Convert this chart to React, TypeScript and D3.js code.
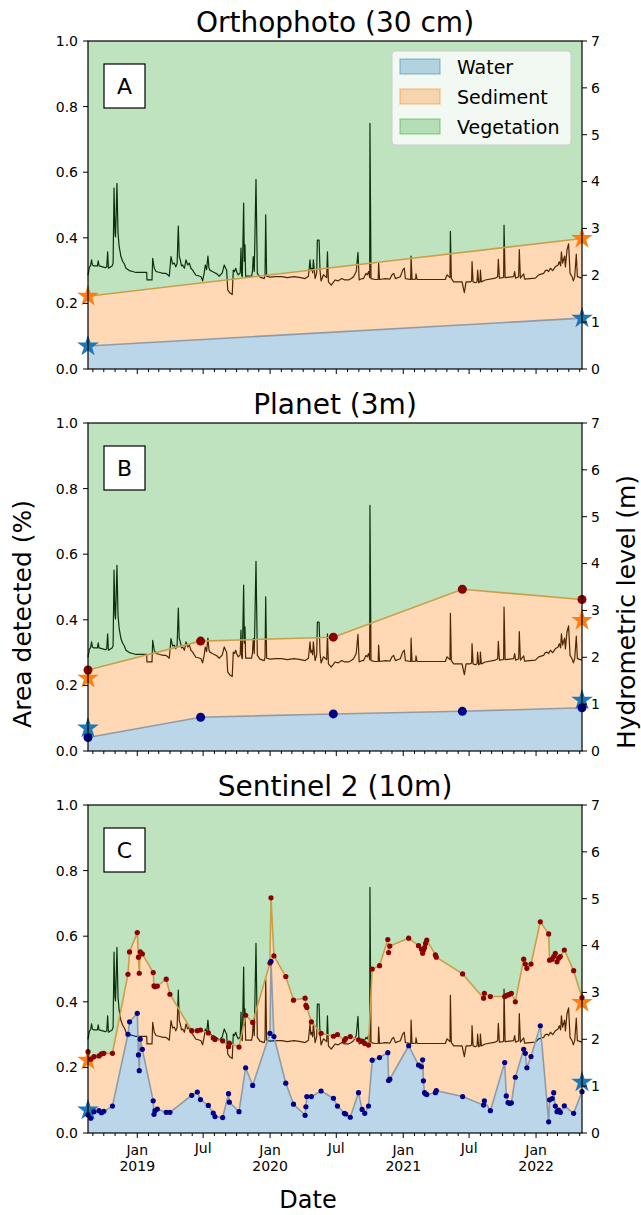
import React from "react";
import * as d3 from "d3";

// hydrometric level (m) at the station, time in decimal years
const hydroYears = [
  2018.629, 2018.64, 2018.648, 2018.656, 2018.662, 2018.674, 2018.7, 2018.706, 2018.712, 2018.74,
  2018.76, 2018.77, 2018.777, 2018.783, 2018.81, 2018.818, 2018.825, 2018.832, 2018.836, 2018.842,
  2018.847, 2018.855, 2018.864, 2018.877, 2018.89, 2018.903, 2018.915, 2018.94, 2018.965, 2018.99,
  2019.071, 2019.073, 2019.111, 2019.116, 2019.128, 2019.141, 2019.17, 2019.195, 2019.216, 2019.23,
  2019.241, 2019.254, 2019.266, 2019.279, 2019.29, 2019.3, 2019.309, 2019.316, 2019.324, 2019.333,
  2019.342, 2019.355, 2019.367, 2019.38, 2019.392, 2019.404, 2019.417, 2019.43, 2019.442, 2019.46,
  2019.48, 2019.492, 2019.504, 2019.512, 2019.522, 2019.532, 2019.54, 2019.547, 2019.565, 2019.58,
  2019.6, 2019.617, 2019.64, 2019.655, 2019.665, 2019.673, 2019.681, 2019.698, 2019.715, 2019.723,
  2019.732, 2019.741, 2019.752, 2019.761, 2019.775, 2019.781, 2019.786, 2019.791, 2019.801, 2019.806,
  2019.811, 2019.816, 2019.84, 2019.861, 2019.868, 2019.873, 2019.881, 2019.894, 2019.904, 2019.924,
  2019.956, 2019.962, 2019.967, 2019.974, 2020.0, 2020.04, 2020.087, 2020.13, 2020.18, 2020.23,
  2020.263, 2020.288, 2020.3, 2020.306, 2020.313, 2020.32, 2020.325, 2020.338, 2020.35, 2020.355,
  2020.368, 2020.375, 2020.383, 2020.401, 2020.425, 2020.431, 2020.438, 2020.459, 2020.475, 2020.489,
  2020.51, 2020.539, 2020.56, 2020.589, 2020.61, 2020.627, 2020.647, 2020.66, 2020.669, 2020.69,
  2020.702, 2020.72, 2020.73, 2020.74, 2020.748, 2020.75, 2020.758, 2020.79, 2020.812, 2020.815,
  2020.822, 2020.865, 2020.9, 2020.916, 2020.928, 2020.941, 2020.978, 2020.996, 2021.008, 2021.016,
  2021.056, 2021.059, 2021.066, 2021.094, 2021.096, 2021.104, 2021.2, 2021.317, 2021.33, 2021.352,
  2021.355, 2021.362, 2021.38, 2021.443, 2021.46, 2021.473, 2021.505, 2021.515, 2021.518, 2021.526,
  2021.543, 2021.556, 2021.56, 2021.568, 2021.578, 2021.581, 2021.588, 2021.618, 2021.694, 2021.711,
  2021.716, 2021.724, 2021.749, 2021.756, 2021.759, 2021.767, 2021.831, 2021.839, 2021.846, 2021.869,
  2021.874, 2021.882, 2021.907, 2021.914, 2021.995, 2022.02, 2022.057, 2022.07, 2022.083, 2022.095,
  2022.108, 2022.125, 2022.145, 2022.166, 2022.175, 2022.185, 2022.191, 2022.2, 2022.215, 2022.221,
  2022.233, 2022.245, 2022.256, 2022.271, 2022.281, 2022.291, 2022.303, 2022.311, 2022.334, 2022.346,
];
const hydroLevels = [
  2.0, 2.18, 2.2, 2.33, 2.22, 2.2, 2.2, 2.31, 2.2, 2.18,
  2.16, 2.18, 2.5, 2.15, 2.2, 2.25, 3.86, 2.9, 2.82, 3.4,
  3.96, 2.9, 2.61, 2.4, 2.3, 2.24, 2.15, 2.1, 2.08, 2.06,
  2.06, 1.9, 1.9, 2.36, 2.15, 2.08, 2.06, 2.04, 2.04, 2.01,
  1.98, 2.4, 2.24, 2.26, 2.18, 2.25, 3.05, 2.4, 2.33, 2.2,
  2.22, 2.15, 2.33, 2.22, 2.26, 2.15, 2.11, 2.05, 2.0, 1.99,
  1.97, 1.88, 2.05, 2.22, 2.12, 2.41, 2.15, 2.11, 2.08, 2.06,
  2.03, 1.98, 2.05, 2.22, 2.15, 2.11, 1.69, 1.62, 1.59, 2.11,
  2.08, 2.15, 2.05, 2.01, 2.05, 2.58, 2.0, 1.97, 3.54, 2.3,
  2.65, 1.98, 1.98, 1.98, 2.1, 2.4, 2.08, 4.05, 2.04, 1.96,
  1.93, 2.0, 3.29, 1.98, 1.96, 1.97, 1.97, 1.95, 1.97, 1.95,
  1.93, 1.98, 2.33, 2.1, 2.15, 2.05, 2.33, 1.93, 2.05, 2.75,
  2.75, 2.1, 1.88, 2.01, 1.95, 2.5, 1.86, 1.79, 1.85, 1.9,
  1.88, 1.93, 1.9, 1.9, 1.93, 1.97, 2.08, 2.49, 1.9, 1.93,
  1.93, 2.04, 2.01, 2.08, 1.95, 5.24, 1.93, 1.91, 1.91, 2.26,
  1.91, 1.93, 1.92, 2.01, 2.04, 1.93, 1.97, 2.11, 2.15, 1.93,
  1.91, 2.41, 1.91, 1.92, 2.03, 1.91, 1.91, 1.91, 2.01, 1.95,
  2.94, 1.93, 1.86, 1.86, 1.63, 1.86, 1.86, 1.88, 2.29, 1.86,
  1.84, 1.86, 2.11, 1.84, 1.86, 2.11, 1.86, 1.9, 1.94, 1.97,
  2.34, 1.94, 1.95, 1.96, 3.07, 1.95, 1.97, 2.08, 1.94, 1.97,
  2.55, 1.94, 2.03, 1.92, 1.94, 2.01, 2.04, 2.1, 2.11, 2.08,
  2.15, 2.1, 2.18, 2.22, 2.29, 2.2, 2.5, 2.26, 2.41, 2.18,
  2.54, 2.67, 2.04, 1.97, 1.88, 1.97, 2.45, 1.97, 1.95, 1.94,
];

// Orthophoto (30 cm): water fraction and water + sediment fraction
const orthoYears = [2018.629, 2022.346];
const orthoWater = [0.07, 0.155];
const orthoWaterSed = [0.222, 0.398];

// Planet (3m)
const planetYears = [2018.629, 2019.477, 2020.475, 2021.445, 2022.346];
const planetWater = [0.041, 0.103, 0.113, 0.121, 0.132];
const planetWaterSed = [0.247, 0.335, 0.347, 0.493, 0.462];

// Sentinel 2 (10m)
const s2Years = [
  2018.629, 2018.65, 2018.674, 2018.712, 2018.73, 2018.748, 2018.813, 2018.93, 2018.942, 2019.0,
  2019.009, 2019.015, 2019.022, 2019.038, 2019.12, 2019.126, 2019.133, 2019.151, 2019.218, 2019.246,
  2019.41, 2019.452, 2019.476, 2019.535, 2019.572, 2019.585, 2019.643, 2019.687, 2019.693, 2019.766,
  2019.816, 2019.869, 2019.999, 2020.007, 2020.029, 2020.118, 2020.176, 2020.263, 2020.269, 2020.276,
  2020.31, 2020.383, 2020.476, 2020.506, 2020.558, 2020.568, 2020.602, 2020.664, 2020.691, 2020.711,
  2020.739, 2020.767, 2020.822, 2020.884, 2020.89, 2020.899, 2021.041, 2021.115, 2021.137, 2021.146,
  2021.152, 2021.16, 2021.168, 2021.177, 2021.242, 2021.249, 2021.447, 2021.605, 2021.611, 2021.656,
  2021.764, 2021.776, 2021.789, 2021.801, 2021.814, 2021.844, 2021.907, 2021.919, 2021.931, 2021.962,
  2022.032, 2022.095, 2022.102, 2022.121, 2022.133, 2022.145, 2022.158, 2022.17, 2022.183, 2022.213,
  2022.283, 2022.346,
];
const s2Water = [
  0.055, 0.045, 0.065, 0.068, 0.062, 0.066, 0.082, 0.301, 0.339, 0.365,
  0.238, 0.19, 0.286, 0.255, 0.098, 0.057, 0.068, 0.073, 0.063, 0.063,
  0.115, 0.125, 0.102, 0.084, 0.061, 0.05, 0.047, 0.12, 0.094, 0.065,
  0.199, 0.145, 0.304, 0.523, 0.294, 0.152, 0.088, 0.054, 0.08, 0.111,
  0.111, 0.128, 0.106, 0.082, 0.06, 0.058, 0.048, 0.123, 0.072, 0.06,
  0.082, 0.222, 0.23, 0.245, 0.16, 0.164, 0.266, 0.207, 0.202, 0.223,
  0.159, 0.123, 0.12, 0.117, 0.123, 0.129, 0.111, 0.085, 0.098, 0.068,
  0.215, 0.113, 0.093, 0.09, 0.092, 0.17, 0.255, 0.243, 0.199, 0.233,
  0.327, 0.034, 0.101, 0.105, 0.123, 0.082, 0.065, 0.07, 0.063, 0.083,
  0.06, 0.126,
];
const s2WaterSed = [
  0.248, 0.225, 0.233, 0.235, 0.241, 0.243, 0.243, 0.484, 0.552, 0.611,
  0.536, 0.487, 0.552, 0.546, 0.489, 0.449, 0.446, 0.448, 0.469, 0.423,
  0.312, 0.312, 0.314, 0.305, 0.29, 0.285, 0.281, 0.263, 0.274, 0.262,
  0.359, 0.337, 0.518, 0.717, 0.54, 0.477, 0.405, 0.411, 0.389, 0.383,
  0.339, 0.304, 0.295, 0.3, 0.282, 0.288, 0.294, 0.284, 0.28, 0.273,
  0.268, 0.5, 0.51, 0.59, 0.55, 0.57, 0.594, 0.571, 0.56, 0.548,
  0.558, 0.565, 0.578, 0.588, 0.543, 0.536, 0.485, 0.411, 0.426, 0.416,
  0.416, 0.419, 0.421, 0.423, 0.426, 0.4, 0.53, 0.515, 0.502, 0.515,
  0.644, 0.607, 0.527, 0.53, 0.538, 0.548, 0.522, 0.533, 0.538, 0.558,
  0.495, 0.413,
];

const legendLabels = ["Water", "Sediment", "Vegetation"];
const areaTicks = [0, 0.2, 0.4, 0.6, 0.8, 1.0];
const levelTicks = [0, 1, 2, 3, 4, 5, 6, 7];

const WIDTH = 641;
const HEIGHT = 1215;
const LEFT = 88;
const RIGHT = 582;
const PANEL_H = 328;
const FONT = "DejaVu Sans, sans-serif";

const BLUE = "#1f77b4";
const ORANGE = "#ff7f0e";
const GREEN = "#2ca02c";

function yearToDate(y: number): Date {
  const yr = Math.floor(y);
  const a = Date.UTC(yr, 0, 1);
  const b = Date.UTC(yr + 1, 0, 1);
  return new Date(a + (y - yr) * (b - a));
}

const x = d3
  .scaleUtc()
  .domain([yearToDate(orthoYears[0]), yearToDate(orthoYears[1])])
  .range([LEFT, RIGHT]);
const months = d3.utcMonth.range(x.domain()[0], x.domain()[1]);

type PanelProps = {
  top: number;
  title: string;
  letter: string;
  years: number[];
  water: number[];
  waterSed: number[];
  dotR: number;
  legend?: boolean;
  dateLabels?: boolean;
};

function Panel({ top, title, letter, years, water, waterSed, dotR, legend, dateLabels }: PanelProps) {
  const bottom = top + PANEL_H;
  const yArea = d3.scaleLinear().domain([0, 1]).range([bottom, top]);
  const yLevel = d3.scaleLinear().domain([0, 7]).range([bottom, top]);

  const pts = years.map((t, i) => ({ d: yearToDate(t), w: water[i], s: waterSed[i] }));
  const px = (p: any) => x(p.d);

  const waterArea = d3.area<any>().x(px).y0(yArea(0)).y1((p) => yArea(p.w))(pts);
  const sedArea = d3.area<any>().x(px).y0((p) => yArea(p.w)).y1((p) => yArea(p.s))(pts);
  const vegArea = d3.area<any>().x(px).y0((p) => yArea(p.s)).y1(yArea(1))(pts);
  const waterLine = d3.line<any>().x(px).y((p) => yArea(p.w))(pts);
  const sedLine = d3.line<any>().x(px).y((p) => yArea(p.s))(pts);

  const hydroPath = d3
    .line<number>()
    .x((t) => x(yearToDate(t)))
    .y((t, i) => yLevel(hydroLevels[i]))(hydroYears);

  const star = d3.symbol(d3.symbolStar, 145)() as string;
  const stars = orthoYears.flatMap((t, i) => [
    { d: yearToDate(t), v: orthoWater[i], c: BLUE },
    { d: yearToDate(t), v: orthoWaterSed[i], c: ORANGE },
  ]);

  return (
    <g>
      <text x={(LEFT + RIGHT) / 2} y={top - 9} textAnchor="middle" fontSize={28}>
        {title}
      </text>

      <rect x={LEFT} y={top} width={RIGHT - LEFT} height={PANEL_H} fill="white" />
      <path d={hydroPath || ""} fill="none" stroke="black" strokeWidth={1.2} strokeLinejoin="round" />
      <path d={waterArea || ""} fill={BLUE} fillOpacity={0.3} />
      <path d={sedArea || ""} fill={ORANGE} fillOpacity={0.3} />
      <path d={vegArea || ""} fill={GREEN} fillOpacity={0.3} />
      <path d={waterLine || ""} fill="none" stroke="#8f9ca8" strokeWidth={1.6} />
      <path d={sedLine || ""} fill="none" stroke="#c9a04a" strokeWidth={1.6} />

      {stars.map((s, i) => (
        <path key={"s" + i} d={star} transform={`translate(${x(s.d)},${yArea(s.v)})`} fill={s.c} />
      ))}

      {dotR > 0 &&
        pts.map((p, i) => (
          <g key={"d" + i}>
            <circle cx={x(p.d)} cy={yArea(p.s)} r={dotR} fill="#8b0000" />
            <circle cx={x(p.d)} cy={yArea(p.w)} r={dotR} fill="#00008b" />
          </g>
        ))}

      {/* frame */}
      <rect x={LEFT} y={top} width={RIGHT - LEFT} height={PANEL_H} fill="none" stroke="black" strokeWidth={1.2} />

      {/* left axis */}
      {areaTicks.map((t) => (
        <g key={"l" + t}>
          <line x1={LEFT - 5} x2={LEFT} y1={yArea(t)} y2={yArea(t)} stroke="black" strokeWidth={1} />
          <text x={LEFT - 10} y={yArea(t)} dy="0.35em" textAnchor="end" fontSize={14}>
            {t.toFixed(1)}
          </text>
        </g>
      ))}

      {/* right axis */}
      {levelTicks.map((t) => (
        <g key={"r" + t}>
          <line x1={RIGHT} x2={RIGHT + 5} y1={yLevel(t)} y2={yLevel(t)} stroke="black" strokeWidth={1} />
          <text x={RIGHT + 9} y={yLevel(t)} dy="0.35em" textAnchor="start" fontSize={14}>
            {t}
          </text>
        </g>
      ))}

      {/* date axis */}
      {months.map((m) => {
        const mo = m.getUTCMonth();
        const major = mo === 0 || mo === 6;
        const xm = x(m);
        return (
          <g key={"m" + m.getTime()}>
            <line x1={xm} x2={xm} y1={bottom} y2={bottom + (major ? 5 : 3)} stroke="black" strokeWidth={1} />
            {dateLabels && mo === 0 && (
              <text x={xm} textAnchor="middle" fontSize={14}>
                <tspan x={xm} y={bottom + 22}>
                  Jan
                </tspan>
                <tspan x={xm} y={bottom + 37.5}>
                  {m.getUTCFullYear()}
                </tspan>
              </text>
            )}
            {dateLabels && mo === 6 && (
              <text x={xm} y={bottom + 19.5} textAnchor="middle" fontSize={14}>
                Jul
              </text>
            )}
          </g>
        );
      })}

      {/* panel letter */}
      <rect x={104} y={top + 23} width={41} height={44} fill="white" stroke="black" strokeWidth={1.2} />
      <text x={124.5} y={top + 53} textAnchor="middle" fontSize={22}>
        {letter}
      </text>

      {legend && (
        <g>
          <rect x={392} y={top + 10} width={179} height={94} rx={3} fill="white" fillOpacity={0.8} stroke="#cccccc" />
          {legendLabels.map((lab, i) => {
            const c = [BLUE, ORANGE, GREEN][i];
            return (
              <g key={lab}>
                <rect
                  x={400}
                  y={top + 18 + i * 30}
                  width={40}
                  height={15}
                  fill={c}
                  fillOpacity={0.3}
                  stroke={c}
                  strokeOpacity={0.35}
                  strokeWidth={1.5}
                />
                <text x={457} y={top + 33 + i * 30} fontSize={19}>
                  {lab}
                </text>
              </g>
            );
          })}
        </g>
      )}
    </g>
  );
}

export default function App() {
  return (
    <div style={{ position: "absolute", left: 0, top: 0 }}>
      <svg width={WIDTH} height={HEIGHT} style={{ display: "block", fontFamily: FONT }}>
        <rect width={WIDTH} height={HEIGHT} fill="white" />
        <Panel
          top={41}
          title="Orthophoto (30 cm)"
          letter="A"
          years={orthoYears}
          water={orthoWater}
          waterSed={orthoWaterSed}
          dotR={0}
          legend
        />
        <Panel
          top={423}
          title="Planet (3m)"
          letter="B"
          years={planetYears}
          water={planetWater}
          waterSed={planetWaterSed}
          dotR={4.5}
        />
        <Panel
          top={805}
          title="Sentinel 2 (10m)"
          letter="C"
          years={s2Years}
          water={s2Water}
          waterSed={s2WaterSed}
          dotR={2.6}
          dateLabels
        />
        <text transform="translate(31,614) rotate(-90)" textAnchor="middle" fontSize={25}>
          Area detected (%)
        </text>
        <text transform="translate(635,612) rotate(-90)" textAnchor="middle" fontSize={25}>
          Hydrometric level (m)
        </text>
        <text x={308} y={1208} textAnchor="middle" fontSize={24}>
          Date
        </text>
      </svg>
    </div>
  );
}
